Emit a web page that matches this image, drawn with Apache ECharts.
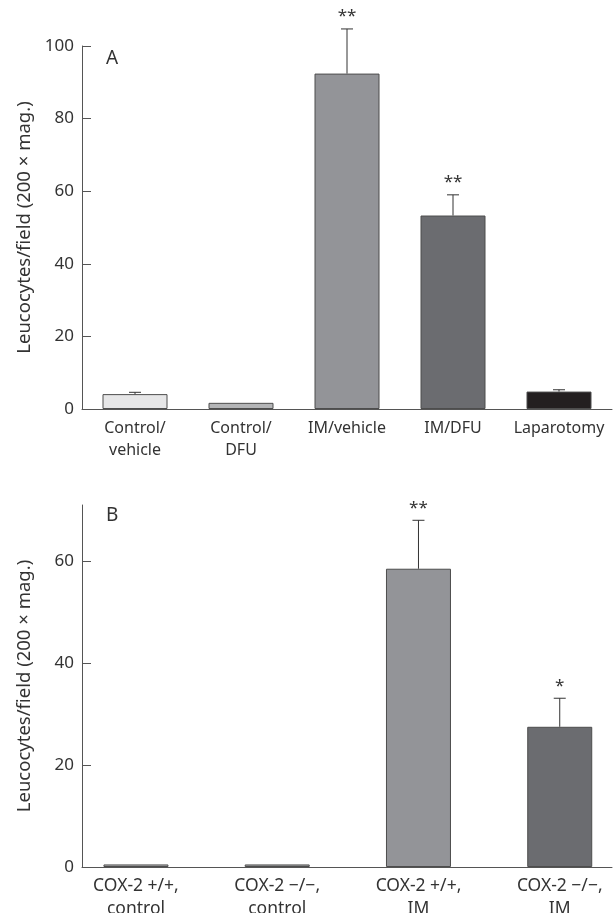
<!DOCTYPE html>
<html>
<head>
<meta charset="utf-8">
<script src="https://cdn.jsdelivr.net/npm/echarts@6/dist/echarts.min.js"></script>
<style>
	html, body { margin: 0; padding: 0; background: #fff; }
	#main { width: 616px; height: 913px; }
</style>
</head>
<body>
<div id="main"></div>
<script>
// panel A
const catsA = ['Control/\nvehicle', 'Control/\nDFU', 'IM/vehicle', 'IM/DFU', 'Laparotomy']
const meanA = [4.1, 1.7, 92.4, 53.3, 4.8]
const errA = [0.5, 0, 12.3, 5.7, 0.5]
const starsA = ['', '', '**', '**', '']
const colorsA = ['#e6e6e7', '#b4b5b7', '#939498', '#6b6c70', '#231f20']
const ticksA = [0, 20, 40, 60, 80, 100]

// panel B
const catsB = ['COX-2 +/+,\ncontrol', 'COX-2 \u2212/\u2212,\ncontrol', 'COX-2 +/+,\nIM', 'COX-2 \u2212/\u2212,\nIM']
const posB = [0, 1, 2, 3]
const meanB = [0.5, 0.5, 58.5, 27.5]
const errB = [0, 0, 9.5, 5.6]
const starsB = ['', '', '**', '*']
const colorsB = ['#b4b5b7', '#a3a4a7', '#939498', '#6b6c70']
const ticksB = [0, 20, 40, 60]

const FONT = 'Noto Sans'
const AXIS_COLOR = '#555'
const TEXT_COLOR = '#333'
const yName = 'Leucocytes/field (200 \u00d7 mag.)'

function barData(pos, mean, colors) {
	return mean.map(function (v, i) {
		return {
			value: [pos[i], v],
			itemStyle: { color: colors[i] }
		}
	})
}

function errData(pos, mean, err, stars) {
	return mean.map(function (v, i) {
		return [pos[i], v, err[i], stars[i]]
	})
}

function renderErr(params, api) {
	var x = api.value(0)
	var m = api.value(1)
	var e = api.value(2)
	var star = params.context.stars[params.dataIndex]
	var base = api.coord([x, m])
	var top = api.coord([x, m + e])
	var children = []
	if (e > 0) {
		children.push({
			type: 'line',
			shape: { x1: base[0], y1: base[1], x2: top[0], y2: top[1] },
			style: { stroke: '#333', lineWidth: 1 }
		})
		children.push({
			type: 'line',
			shape: { x1: top[0] - 6, y1: top[1], x2: top[0] + 6, y2: top[1] },
			style: { stroke: '#333', lineWidth: 1 }
		})
	}
	if (star) {
		children.push({
			type: 'text',
			style: {
				text: star,
				x: top[0],
				y: top[1] - 4,
				align: 'center',
				verticalAlign: 'bottom',
				fontSize: 17,
				fontFamily: FONT,
				fill: '#333'
			}
		})
	}
	return { type: 'group', children: children }
}

function yAxisCfg(gridIndex, max, ticks) {
	return {
		type: 'value',
		gridIndex: gridIndex,
		min: 0,
		max: max,
		interval: 20,
		name: yName,
		nameLocation: 'middle',
		nameGap: 48,
		nameTextStyle: { fontSize: 18.5, fontFamily: FONT, color: TEXT_COLOR },
		axisLine: { show: true, onZero: false, lineStyle: { color: AXIS_COLOR, width: 1 } },
		axisTick: { show: true, inside: true, length: 9, customValues: ticks, lineStyle: { color: AXIS_COLOR } },
		axisLabel: { customValues: ticks, fontSize: 17, fontFamily: FONT, color: TEXT_COLOR, margin: 8 },
		splitLine: { show: false }
	}
}

const chart = echarts.init(document.getElementById('main'), null, { renderer: 'canvas' })

const option = {
	backgroundColor: '#fff',
	animation: false,
	grid: [
		{ left: 82, top: 46, width: 530, height: 363, outerBoundsMode: 'none' },
		{ left: 82, top: 505, width: 530, height: 362, outerBoundsMode: 'none' }
	],
	title: [
		{ text: 'A', left: 101, top: 44, textStyle: { fontSize: 19, fontWeight: 'normal', fontFamily: FONT, color: TEXT_COLOR } },
		{ text: 'B', left: 101, top: 501, textStyle: { fontSize: 19, fontWeight: 'normal', fontFamily: FONT, color: TEXT_COLOR } }
	],
	xAxis: [
		{
			type: 'category',
			gridIndex: 0,
			data: catsA,
			axisLine: { lineStyle: { color: AXIS_COLOR, width: 1 } },
			axisTick: { show: false },
			axisLabel: { fontSize: 16, lineHeight: 22, fontFamily: FONT, color: TEXT_COLOR, margin: 8, interval: 0 }
		},
		{
			type: 'value',
			gridIndex: 1,
			min: -0.382,
			max: 3.37,
			axisLine: { show: true, onZero: false, lineStyle: { color: AXIS_COLOR, width: 1 } },
			axisTick: { show: false },
			splitLine: { show: false },
			axisLabel: {
				customValues: posB,
				formatter: function (v) { return catsB[Math.round(v)] },
				fontSize: 17.5, lineHeight: 23, fontFamily: FONT, color: TEXT_COLOR, margin: 8
			}
		}
	],
	yAxis: [yAxisCfg(0, 100, ticksA), yAxisCfg(1, 71, ticksB)],
	series: [
		{
			type: 'bar',
			xAxisIndex: 0,
			yAxisIndex: 0,
			barWidth: 65,
			itemStyle: { borderColor: '#4d4d4d', borderWidth: 1 },
			data: barData([0, 1, 2, 3, 4], meanA, colorsA)
		},
		{
			type: 'custom',
			xAxisIndex: 0,
			yAxisIndex: 0,
			renderItem: function (params, api) {
				params.context.stars = starsA
				return renderErr(params, api)
			},
			data: errData([0, 1, 2, 3, 4], meanA, errA, starsA),
			z: 5
		},
		{
			type: 'bar',
			xAxisIndex: 1,
			yAxisIndex: 1,
			barWidth: 65,
			itemStyle: { borderColor: '#4d4d4d', borderWidth: 1 },
			data: barData(posB, meanB, colorsB)
		},
		{
			type: 'custom',
			xAxisIndex: 1,
			yAxisIndex: 1,
			renderItem: function (params, api) {
				params.context.stars = starsB
				return renderErr(params, api)
			},
			data: errData(posB, meanB, errB, starsB),
			z: 5
		}
	]
}

chart.setOption(option)
</script>
</body>
</html>
